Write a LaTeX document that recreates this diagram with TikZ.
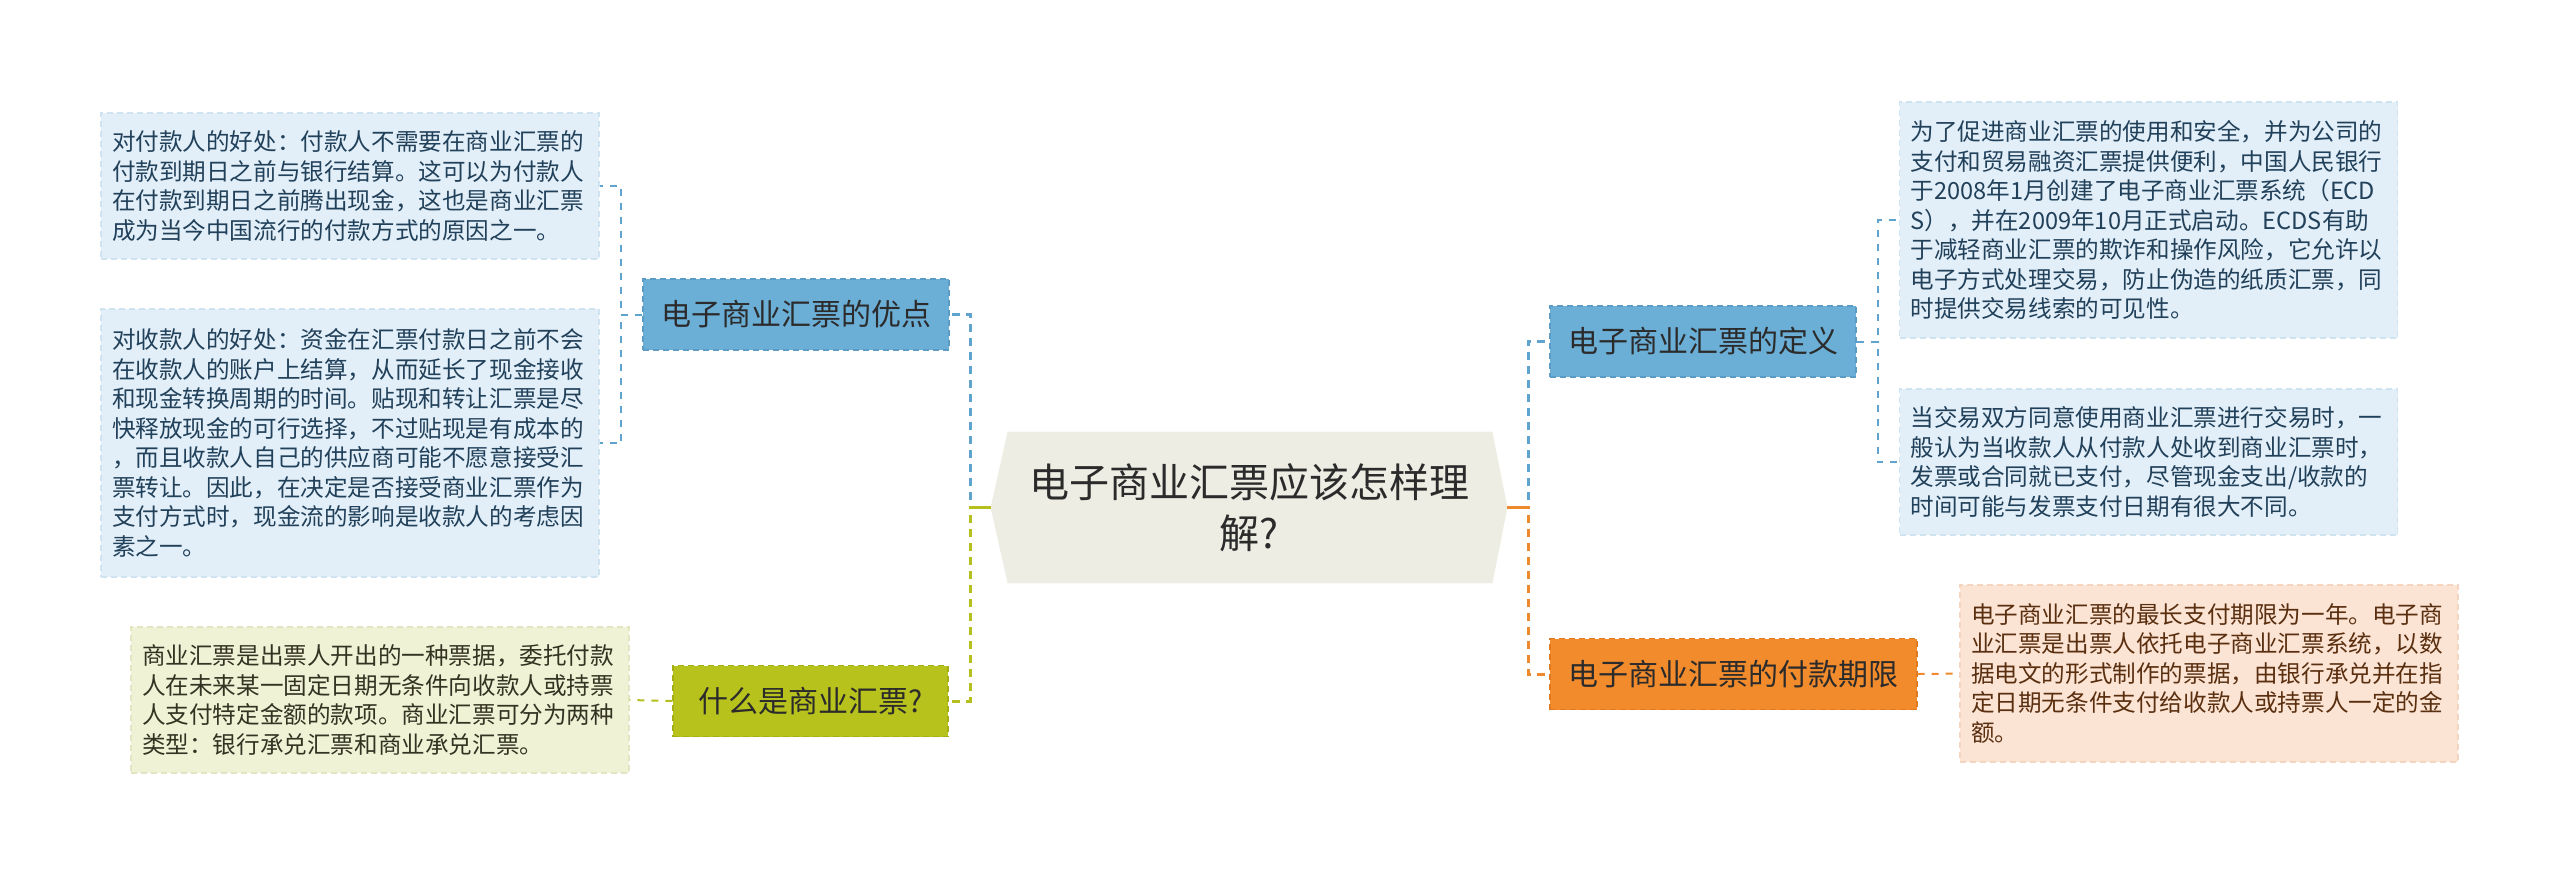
\documentclass[tikz,border=0pt]{standalone}
\usepackage{fontspec}
\newfontfamily\cjk{Noto Sans CJK SC}
\usetikzlibrary{calc,backgrounds}
\definecolor{bbfill}{HTML}{6BAED6}
\definecolor{bbdraw}{HTML}{5A9CC6}
\definecolor{blfill}{HTML}{E2EFF8}
\definecolor{bldraw}{HTML}{D0E3F0}
\definecolor{bltext}{HTML}{21405A}
\definecolor{gbfill}{HTML}{B8C21C}
\definecolor{gbdraw}{HTML}{A5AE15}
\definecolor{glfill}{HTML}{F0F2D6}
\definecolor{gldraw}{HTML}{E2E5C2}
\definecolor{gltext}{HTML}{333322}
\definecolor{obfill}{HTML}{F28B2C}
\definecolor{obdraw}{HTML}{E07A20}
\definecolor{olfill}{HTML}{FCE4D4}
\definecolor{oldraw}{HTML}{F5D5C0}
\definecolor{oltext}{HTML}{5A2F10}
\definecolor{cfill}{HTML}{EDEDE4}
\definecolor{conblue}{HTML}{5FA3CF}
\definecolor{congreen}{HTML}{B5BF1E}
\definecolor{conorange}{HTML}{EE8A2D}
\definecolor{darktext}{HTML}{2B2B2B}
\begin{document}
\begin{tikzpicture}[x=0.5pt,y=-0.5pt,
  mainnode/.style={inner sep=0pt, minimum width=258pt, minimum height=75.5pt, align=center,
    font=\cjk\fontsize{20pt}{25.5pt}\selectfont, text=darktext},
  branch/.style={draw, dash pattern=on 3pt off 2pt, line width=0.6pt, inner sep=0pt,
    minimum height=35.5pt, font=\cjk\fontsize{15pt}{18pt}\selectfont, text=darktext},
  leaf/.style={draw, dash pattern=on 3pt off 2pt, line width=0.6pt, inner xsep=5.5pt, inner ysep=0pt,
    text width=238pt, align=left, font=\cjk\fontsize{11.8pt}{14.75pt}\selectfont},
  conbr/.style={line width=1.5pt, dash pattern=on 4pt off 3pt},
  stub/.style={line width=1.5pt},
  conlf/.style={line width=1pt, dash pattern=on 3.5pt off 3.5pt}
]
\useasboundingbox (0,0) rectangle (2560,875);

% central node
\node[mainnode] (c) at (1249,507.5) {电子商业汇票应该怎样理\\解?};
\begin{scope}[on background layer]
\fill[cfill] ($(c.north west)+(17,0)$) -- ($(c.north east)+(-15,0)$) -- (c.east)
  -- ($(c.south east)+(-15,0)$) -- ($(c.south west)+(17,0)$) -- (c.west) -- cycle;
\end{scope}

% branch nodes
\node[branch, fill=bbfill, draw=bbdraw, minimum width=153pt] (n1) at (796,314.5) {电子商业汇票的优点};
\node[branch, fill=gbfill, draw=gbdraw, minimum width=137.5pt] (n2) at (810.5,701) {什么是商业汇票?};
\node[branch, fill=bbfill, draw=bbdraw, minimum width=153pt] (r1) at (1703,341.5) {电子商业汇票的定义};
\node[branch, fill=obfill, draw=obdraw, minimum width=183.5pt] (r2) at (1733.5,674) {电子商业汇票的付款期限};

% leaves
\node[leaf, fill=blfill, draw=bldraw, text=bltext, minimum height=73pt] (l1) at (350,186) {对付款人的好处：付款人不需要在商业汇票的\\付款到期日之前与银行结算。这可以为付款人\\在付款到期日之前腾出现金，这也是商业汇票\\成为当今中国流行的付款方式的原因之一。};
\node[leaf, fill=blfill, draw=bldraw, text=bltext, minimum height=134pt] (l2) at (350,443) {对收款人的好处：资金在汇票付款日之前不会\\在收款人的账户上结算，从而延长了现金接收\\和现金转换周期的时间。贴现和转让汇票是尽\\快释放现金的可行选择，不过贴现是有成本的\\，而且收款人自己的供应商可能不愿意接受汇\\票转让。因此，在决定是否接受商业汇票作为\\支付方式时，现金流的影响是收款人的考虑因\\素之一。};
\node[leaf, fill=glfill, draw=gldraw, text=gltext, minimum height=73pt] (l3) at (380,700) {商业汇票是出票人开出的一种票据，委托付款\\人在未来某一固定日期无条件向收款人或持票\\人支付特定金额的款项。商业汇票可分为两种\\类型：银行承兑汇票和商业承兑汇票。};
\node[leaf, fill=blfill, draw=bldraw, text=bltext, minimum height=118pt] (rl1) at (2148.5,220) {为了促进商业汇票的使用和安全，并为公司的\\支付和贸易融资汇票提供便利，中国人民银行\\于2008年1月创建了电子商业汇票系统（ECD\\S），并在2009年10月正式启动。ECDS有助\\于减轻商业汇票的欺诈和操作风险，它允许以\\电子方式处理交易，防止伪造的纸质汇票，同\\时提供交易线索的可见性。};
\node[leaf, fill=blfill, draw=bldraw, text=bltext, minimum height=73pt] (rl2) at (2148.5,462) {当交易双方同意使用商业汇票进行交易时，一\\般认为当收款人从付款人处收到商业汇票时，\\发票或合同就已支付，尽管现金支出/收款的\\时间可能与发票支付日期有很大不同。};
\node[leaf, fill=olfill, draw=oldraw, text=oltext, minimum height=88.5pt] (rl3) at (2209,673.5) {电子商业汇票的最长支付期限为一年。电子商\\业汇票是出票人依托电子商业汇票系统，以数\\据电文的形式制作的票据，由银行承兑并在指\\定日期无条件支付给收款人或持票人一定的金\\额。};

% main connectors
\coordinate (jl) at (970,507.5);
\coordinate (jr) at (1528,507.5);
\draw[conbr, conblue] (c.west) -- (jl) |- (n1.east);
\draw[conbr, congreen] (c.west) -- (jl) |- (n2.east);
\draw[stub, congreen] (c.west) -- (jl);
\draw[conbr, conblue] (c.east) -- (jr) |- (r1.west);
\draw[conbr, conorange] (c.east) -- (jr) |- (r2.west);
\draw[stub, conorange] (c.east) -- (jr);

% leaf connectors
\draw[conlf, conblue] (n1.west) -- ++(-21,0) |- (l1.east);
\draw[conlf, conblue] (n1.west) -- ++(-21,0) |- (l2.east);
\draw[conlf, congreen] (n2.west) -- (l3.east);
\draw[conlf, conblue] (r1.east) -- ++(21,0) |- (rl1.west);
\draw[conlf, conblue] (r1.east) -- ++(21,0) |- (rl2.west);
\draw[conlf, conorange] (r2.east) -- (rl3.west);
\end{tikzpicture}
\end{document}
